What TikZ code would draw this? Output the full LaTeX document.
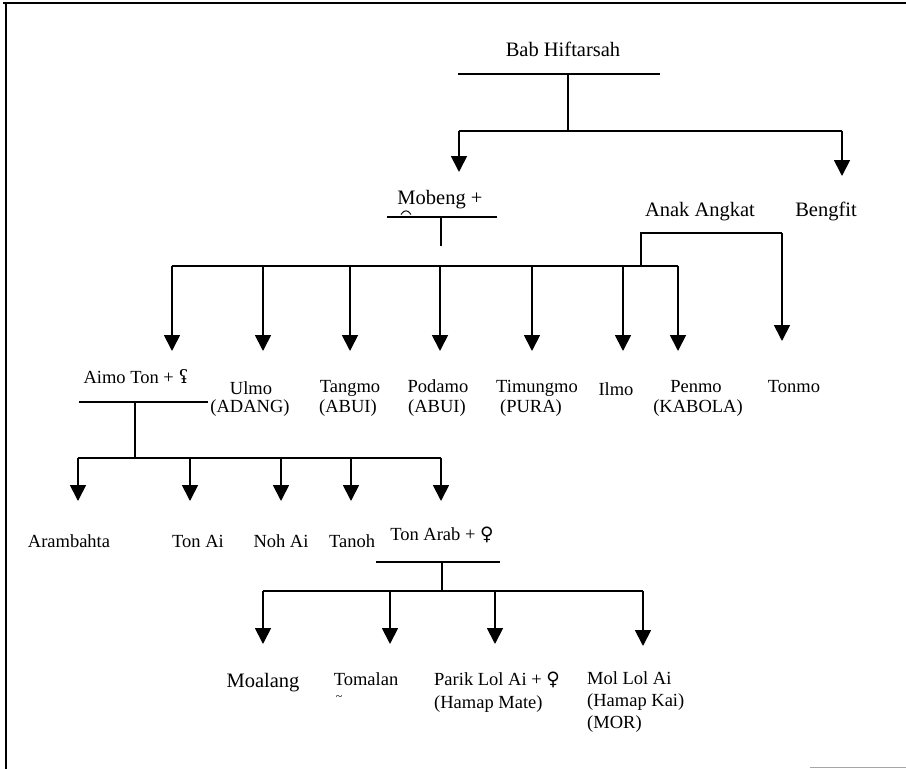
\documentclass[tikz,border=0pt]{standalone}
\usepackage{fontspec}
\setmainfont{Liberation Serif}
\newfontfamily\symfont{DejaVu Serif}
\usetikzlibrary{arrows.meta}
\begin{document}
\begin{tikzpicture}[x=1pt,y=-1pt,
  bar/.style={line width=1.8pt},
  down/.style={line width=1.8pt,-{Triangle[width=16pt,length=16pt]}},
  big/.style={font=\fontsize{20.5}{22}\selectfont, inner sep=0pt, anchor=base},
  small/.style={font=\fontsize{18.5}{21}\selectfont, inner sep=0pt, anchor=base},
  smallw/.style={small, anchor=base west},
]
\useasboundingbox (0,0) rectangle (906,769);
% frame
\draw[bar] (3,3) -- (906,3);
\draw[bar] (6,3) -- (6,769);
\draw[line width=1pt, black!35] (810,767.5) -- (906,767.5);

% ---- generation 1
\node[big] (bab) at (563,56) {Bab Hiftarsah};
\coordinate (babL) at (458,74);
\coordinate (babR) at (660,74);
\coordinate (babJ) at (568,74);
\coordinate (g1J) at (568,131);
\coordinate (g1L) at (459,131);
\coordinate (g1R) at (842,131);
\draw[bar] (babL) -- (babR);
\draw[bar] (babJ) -- (g1J);
\draw[bar] (g1L) -- (g1R);
\coordinate (mobTip) at (459,172);
\coordinate (benTip) at (842,176);
\draw[down] (g1L) -- (mobTip);
\draw[down] (g1R) -- (benTip);

% ---- generation 2
\node[big] (mobeng) at (440,204) {Mobeng +};
\draw[line width=0.9pt] (401,214.5) .. controls (404,209.5) and (408,209.5) .. (411,214.5);
\node[big] (anak) at (700,216) {Anak Angkat};
\node[big] (bengfit) at (826,216) {Bengfit};

\coordinate (mobL) at (387,217);
\coordinate (mobR) at (497,217);
\coordinate (mobJ) at (441,217);
\coordinate (mobE) at (441,246);
\draw[bar] (mobL) -- (mobR);
\draw[bar] (mobJ) -- (mobE);

\coordinate (sibL) at (172,266);
\coordinate (sibR) at (678,266);
\draw[bar] (sibL) -- (sibR);
\foreach \n/\x in {aimo/172, ulmo/263, tangmo/350, podamo/440, timungmo/532, ilmo/623, penmo/678}{
  \coordinate (s-\n) at (\x,266);
  \coordinate (t-\n) at (\x,351);
  \draw[down] (s-\n) -- (t-\n);
}
% adopted child
\coordinate (adA) at (641,266);
\coordinate (adB) at (641,233);
\coordinate (adC) at (782,233);
\coordinate (adT) at (782,341);
\draw[bar] (adA) -- (adB) -- (adC);
\draw[down] (adC) -- (adT);

% ---- generation 2 labels
\node[small] (aimo) at (136,383) {Aimo Ton + {\symfont ʢ}};
\node[small] (ulmo) at (251,394) {Ulmo};
\node[small] (ulmoB) at (250,412) {(ADANG)};
\node[small] (tangmo) at (350,392) {Tangmo};
\node[small] (tangmoB) at (348,412) {(ABUI)};
\node[small] (podamo) at (438,392) {Podamo};
\node[small] (podamoB) at (437,412) {(ABUI)};
\node[small] (timungmo) at (537,392) {Timungmo};
\node[small] (timungmoB) at (531,412) {(PURA)};
\node[small] (ilmo) at (616,395) {Ilmo};
\node[small] (penmo) at (696,392) {Penmo};
\node[small] (penmoB) at (698,412) {(KABOLA)};
\node[small] (tonmo) at (794,392) {Tonmo};

% ---- generation 3
\coordinate (aimoL) at (79,402);
\coordinate (aimoR) at (208,402);
\coordinate (aimoJ) at (135,402);
\coordinate (g3J) at (135,458);
\draw[bar] (aimoL) -- (aimoR);
\draw[bar] (aimoJ) -- (g3J);
\coordinate (g3L) at (78,458);
\coordinate (g3R) at (441,458);
\draw[bar] (g3L) -- (g3R);
\foreach \n/\x in {arambahta/78, tonai/190, nohai/281, tanoh/351, tonarab/441}{
  \coordinate (s-\n) at (\x,458);
  \coordinate (t-\n) at (\x,501);
  \draw[down] (s-\n) -- (t-\n);
}
\node[small] (arambahta) at (69,547) {Arambahta};
\node[small] (tonai) at (198,547) {Ton Ai};
\node[small] (nohai) at (281,547) {Noh Ai};
\node[small] (tanoh) at (352,547) {Tanoh};
\node[small] (tonarab) at (442,540) {Ton Arab + {\symfont ♀}};

% ---- generation 4
\coordinate (arabL) at (376,562);
\coordinate (arabR) at (500,562);
\coordinate (arabJ) at (442,562);
\coordinate (g4J) at (442,591);
\draw[bar] (arabL) -- (arabR);
\draw[bar] (arabJ) -- (g4J);
\coordinate (g4L) at (263,591);
\coordinate (g4R) at (643,591);
\draw[bar] (g4L) -- (g4R);
\foreach \n/\x/\y in {moalang/263/644, tomalan/390/644, parik/495/644, mol/643/646}{
  \coordinate (s-\n) at (\x,591);
  \coordinate (t-\n) at (\x,\y);
  \draw[down] (s-\n) -- (t-\n);
}
\node[big] (moalang) at (263,687) {Moalang};
\node[small] (tomalan) at (366,685) {Tomalan};
\node[font=\fontsize{12}{12}\selectfont, inner sep=0pt] (tomalanT) at (339,698) {\char`~};
\node[smallw] (parik) at (434,685) {Parik Lol Ai + {\symfont ♀}};
\node[smallw] (parikB) at (434,708) {(Hamap Mate)};
\node[smallw] (mol) at (587,684) {Mol Lol Ai};
\node[smallw] (molB) at (587,706) {(Hamap Kai)};
\node[smallw] (molC) at (587,728) {(MOR)};
\end{tikzpicture}
\end{document}
